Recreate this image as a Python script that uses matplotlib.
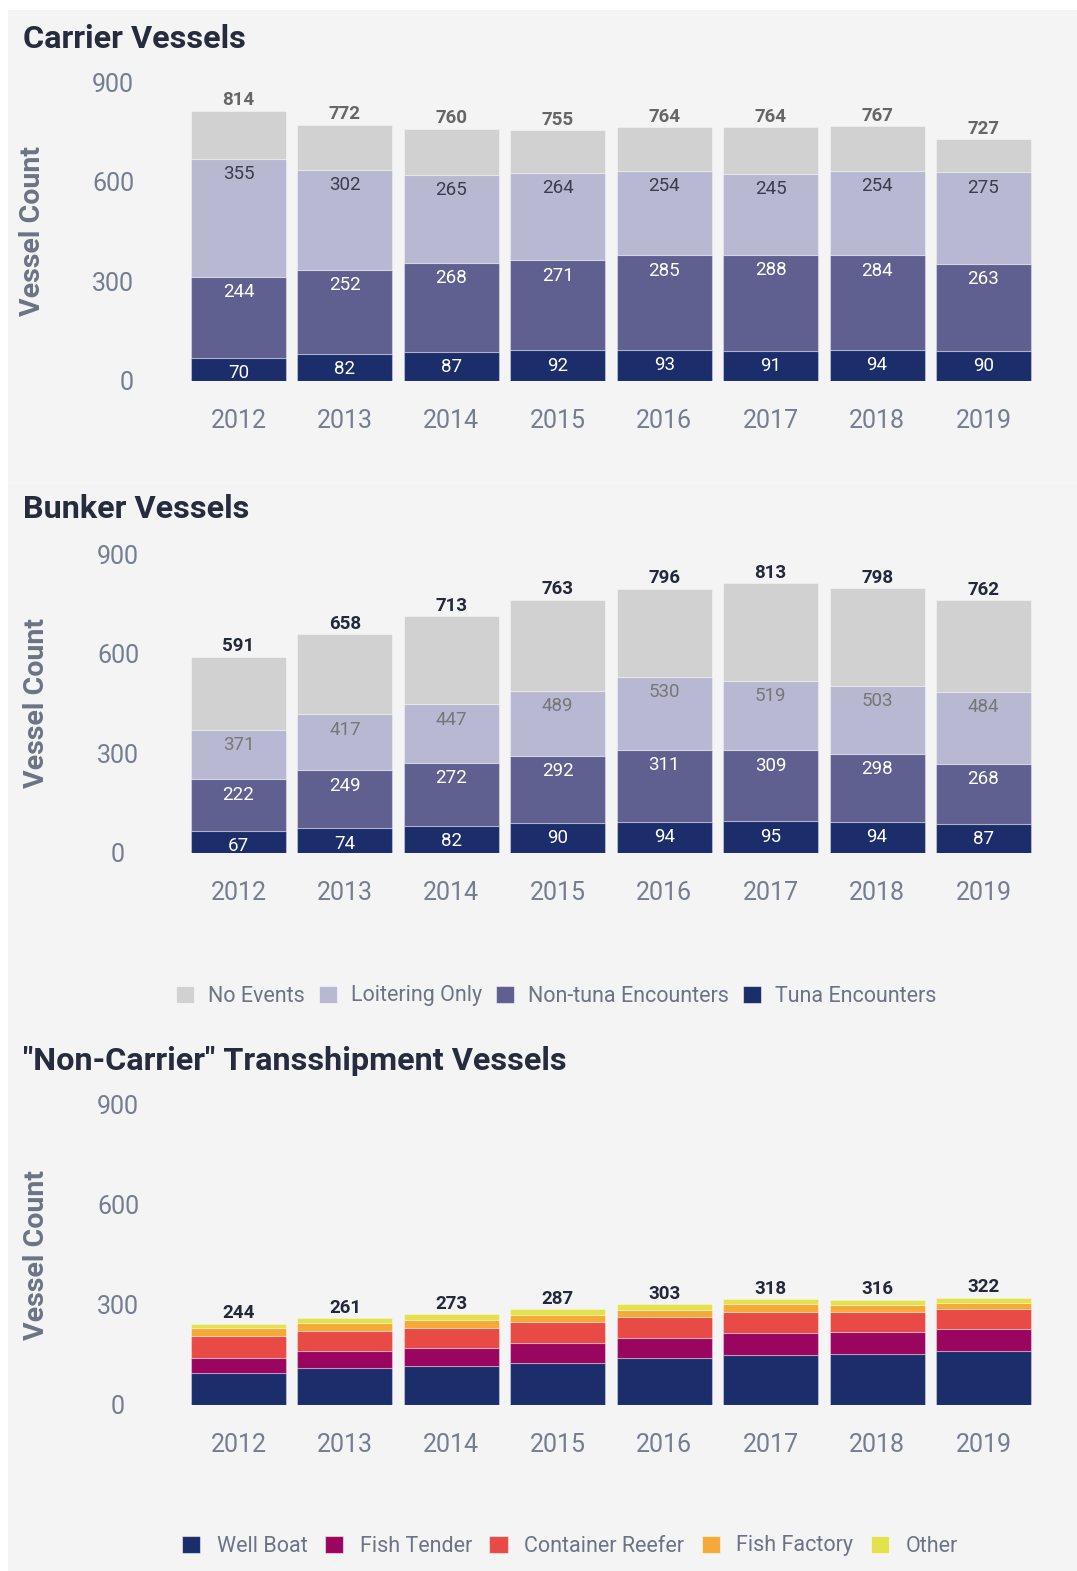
import matplotlib
matplotlib.use("Agg")
import matplotlib.pyplot as plt
from matplotlib.patches import Patch, Rectangle
import numpy as np

plt.rcParams['font.family'] = ['Roboto', 'DejaVu Sans']

years = ['2012', '2013', '2014', '2015', '2016', '2017', '2018', '2019']
yticks = [0, 300, 600, 900]

# Carrier vessels (segment values, totals)
car_tuna = [70, 82, 87, 92, 93, 91, 94, 90]
car_nontuna = [244, 252, 268, 271, 285, 288, 284, 263]
car_loiter = [355, 302, 265, 264, 254, 245, 254, 275]
car_total = [814, 772, 760, 755, 764, 764, 767, 727]

# Bunker vessels (labels are cumulative values)
bun_tuna_cum = [67, 74, 82, 90, 94, 95, 94, 87]
bun_nontuna_cum = [222, 249, 272, 292, 311, 309, 298, 268]
bun_loiter_cum = [371, 417, 447, 489, 530, 519, 503, 484]
bun_total = [591, 658, 713, 763, 796, 813, 798, 762]

# Non-carrier transshipment vessels (segment values)
nc_well = [96, 110, 116, 127, 140, 150, 152, 161]
nc_tender = [45, 51, 55, 59, 61, 67, 68, 68]
nc_reefer = [65, 62, 61, 62, 63, 63, 60, 58]
nc_factory = [24, 22, 22, 22, 21, 22, 20, 19]
nc_other = [14, 16, 19, 17, 18, 16, 16, 16]

ev_labels = ['No Events', 'Loitering Only', 'Non-tuna Encounters', 'Tuna Encounters']
ev_colors = ['#d1d1d1', '#b8b8d3', '#5f6090', '#1b2d6b']
nc_labels = ['Well Boat', 'Fish Tender', 'Container Reefer', 'Fish Factory', 'Other']
nc_colors = ['#1b2d6b', '#9a0560', '#e84a45', '#f5aa37', '#e3e24b']

W, H = 1077, 1571
fig = plt.figure(figsize=(W / 100, H / 100), dpi=100)
fig.patch.set_facecolor('white')
fig.add_artist(Rectangle((8 / W, 0), 1 - 8 / W, 1 - 10 / H, transform=fig.transFigure,
                         facecolor='#f4f4f4', edgecolor='none', zorder=-10))
fig.add_artist(plt.Line2D([8 / W, 1], [1 - 482 / H] * 2, transform=fig.transFigure,
                          color='#f8f8f8', lw=1, zorder=-9))

TICKC = '#757d92'
LABC = '#6b7385'
TITLEC = '#262b3d'
x = np.arange(len(years))
BW = 0.893
LEFT, RIGHT = 185.3, 1036.7
PT = 72 / 100  # points per pixel


def make_ax(top, bottom, ylab_right, tick_center=None):
    ax = fig.add_axes([LEFT / W, 1 - bottom / H, (RIGHT - LEFT) / W, (bottom - top) / H])
    ax.set_facecolor('none')
    ax.set_xlim(-0.5, 7.5)
    ax.set_ylim(0, 900)
    for s in ax.spines.values():
        s.set_visible(False)
    ax.set_yticks(yticks)
    ax.set_yticklabels([str(v) for v in yticks])
    ax.set_xticks(x)
    ax.set_xticklabels(years)
    if tick_center is None:
        ax.tick_params(axis='y', length=0, pad=(LEFT - 134) * PT, labelsize=18, labelcolor=TICKC)
    else:
        ax.tick_params(axis='y', length=0, pad=(LEFT - tick_center) * PT, labelsize=18,
                       labelcolor=TICKC)
        for lab in ax.get_yticklabels():
            lab.set_horizontalalignment('center')
    ax.tick_params(axis='x', length=0, pad=20, labelsize=18, labelcolor=TICKC)
    ax.set_ylabel('Vessel Count', fontsize=20.5, fontweight='bold', color=LABC)
    ax.yaxis.set_label_coords((ylab_right - LEFT) / (RIGHT - LEFT), 0.5)
    return ax


def title(text, ypx):
    fig.text(23 / W, 1 - ypx / H, text, fontsize=23.3, fontweight='bold', color=TITLEC,
             ha='left', va='center')


def stack(ax, segs, colors):
    bottom = np.zeros(len(x))
    tops = []
    for vals, c in zip(segs, colors):
        vals = np.array(vals, dtype=float)
        ax.bar(x, vals, BW, bottom=bottom, color=c, edgecolor=(1, 1, 1, 0.35), linewidth=0.8)
        bottom = bottom + vals
        tops.append(bottom.copy())
    return tops


def seg_label(ax, xi, ytop, text, color):
    ax.annotate(text, (xi, ytop), xytext=(0, -11), textcoords='offset points',
                ha='center', va='center', fontsize=13.5, color=color)


def total_label(ax, xi, ytop, text, color):
    ax.annotate(text, (xi, ytop), xytext=(0, 7.4), textcoords='offset points',
                ha='center', va='center', fontsize=13.5, fontweight='bold', color=color,
                annotation_clip=False)


# ---------- Carrier ----------
title('Carrier Vessels', 38.5)
ax1 = make_ax(82, 381, 46)
car_none = [t - a - b - c for t, a, b, c in zip(car_total, car_tuna, car_nontuna, car_loiter)]
tops = stack(ax1, [car_tuna, car_nontuna, car_loiter, car_none], ev_colors[::-1])
for i in x:
    seg_label(ax1, i, tops[0][i], str(car_tuna[i]), 'white')
    seg_label(ax1, i, tops[1][i], str(car_nontuna[i]), 'white')
    seg_label(ax1, i, tops[2][i], str(car_loiter[i]), '#3b3d4d')
    total_label(ax1, i, tops[3][i], str(car_total[i]), '#666666')

# ---------- Bunker ----------
title('Bunker Vessels', 509.5)
ax2 = make_ax(554, 853, 50, tick_center=118)
b_tuna = bun_tuna_cum
b_non = [b - a for a, b in zip(bun_tuna_cum, bun_nontuna_cum)]
b_loi = [b - a for a, b in zip(bun_nontuna_cum, bun_loiter_cum)]
b_none = [b - a for a, b in zip(bun_loiter_cum, bun_total)]
tops = stack(ax2, [b_tuna, b_non, b_loi, b_none], ev_colors[::-1])
for i in x:
    seg_label(ax2, i, tops[0][i], str(bun_tuna_cum[i]), 'white')
    seg_label(ax2, i, tops[1][i], str(bun_nontuna_cum[i]), 'white')
    seg_label(ax2, i, tops[2][i], str(bun_loiter_cum[i]), '#777777')
    total_label(ax2, i, tops[3][i], str(bun_total[i]), '#23283a')

leg1 = fig.legend(handles=[Patch(facecolor=c, edgecolor=(1, 1, 1, 0.5), lw=0.8) for c in ev_colors],
                  labels=ev_labels, loc='center', bbox_to_anchor=(556.5 / W, 1 - 996 / H),
                  ncol=4, frameon=False, fontsize=15.5, handlelength=0.84, handleheight=0.84,
                  handletextpad=0.65, columnspacing=0.65, borderaxespad=0, borderpad=0)
for t in leg1.get_texts():
    t.set_color(LABC)

# ---------- Non-carrier ----------
title('"Non-Carrier" Transshipment Vessels', 1061.5)
ax3 = make_ax(1105, 1405, 50, tick_center=118)
tops = stack(ax3, [nc_well, nc_tender, nc_reefer, nc_factory, nc_other], nc_colors)
for i in x:
    total_label(ax3, i, tops[-1][i], str(int(round(tops[-1][i]))), '#23283a')

leg2 = fig.legend(handles=[Patch(facecolor=c, edgecolor=(1, 1, 1, 0.5), lw=0.8) for c in nc_colors],
                  labels=nc_labels, loc='center', bbox_to_anchor=(570 / W, 1 - 1546 / H),
                  ncol=5, frameon=False, fontsize=15.5, handlelength=0.84, handleheight=0.84,
                  handletextpad=0.78, columnspacing=0.8, borderaxespad=0, borderpad=0)
for t in leg2.get_texts():
    t.set_color(LABC)

fig.savefig('out.png', dpi=100, facecolor=fig.get_facecolor())
